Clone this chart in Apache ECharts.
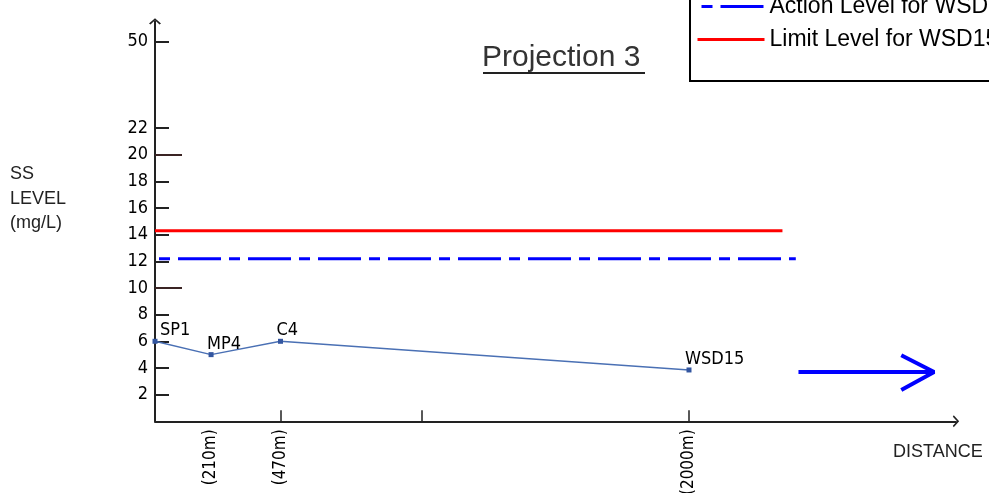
<!DOCTYPE html>
<html>
<head>
<meta charset="utf-8">
<script src="https://cdn.jsdelivr.net/npm/echarts@6/dist/echarts.min.js"></script>
<style>
  html, body { margin: 0; padding: 0; background: #fff; }
  #chart { width: 989px; height: 493px; }
</style>
</head>
<body>
<div id="chart"></div>
<script>
// monitoring stations along the distance axis
const stations = ['SP1', 'MP4', 'C4', 'WSD15']
const distances = [0, 210, 470, 2000]
const ssLevels = [6.0, 5.0, 6.0, 3.85]

// criteria lines (value, and how far along distance they run)
const limitLevel = 14.3
const limitEnd = 2350
const actionLevel = 12.2
const actionEnd = 2400

// axis ticks
const yTickValues = [2, 4, 6, 8, 10, 12, 14, 16, 18, 20, 22]
const yLongTicks = [10, 20]
const yTopLabel = '50'
const yTopPos = 28.5 // where the broken axis puts "50"
const xTickValues = [470, 1000, 2000]
const xLabelValues = [210, 470, 2000]

// direction arrow (data coords)
const arrowShaft = [[2410, 3.7], [2915, 3.7]]
const arrowHead = [[2795, 4.95], [2918, 3.7], [2795, 2.35]]

const narrow = "'Liberation Sans Narrow', 'DejaVu Sans Condensed', sans-serif"
const plain = "'Liberation Sans', Arial, sans-serif"
const chevron = 'path://M0,9 L10,0 L20,9 L17.5,10.5 L10,3.5 L2.5,10.5 Z'

const chart = echarts.init(document.getElementById('chart'))

const option = {
  animation: false,
  backgroundColor: '#fff',
  title: {
    text: 'Projection 3',
    left: 482,
    top: 43,
    padding: 0,
    textStyle: { fontFamily: plain, fontSize: 30, fontWeight: 'normal', color: '#333' }
  },
  legend: {
    orient: 'vertical',
    left: 690,
    top: -25,
    padding: [20, 12, 30, 6],
    itemGap: 10,
    itemWidth: 67,
    itemHeight: 14,
    borderColor: '#000',
    borderWidth: 2,
    backgroundColor: '#fff',
    itemStyle: { opacity: 0 },
    lineStyle: { width: 3 },
    textStyle: { fontFamily: plain, fontSize: 23, color: '#000' },
    data: ['Action Level for WSD15', 'Limit Level for WSD15']
  },
  grid: {
    left: 155,
    right: 33,
    top: 21.3,
    bottom: 71.7,
    outerBoundsMode: 'none'
  },
  xAxis: {
    type: 'value',
    min: 0,
    max: 3000,
    splitLine: { show: false },
    axisLine: {
      symbol: ['none', chevron],
      symbolSize: [12, 8],
      lineStyle: { color: '#222', width: 2 }
    },
    axisTick: {
      inside: true,
      length: 11,
      customValues: xTickValues,
      lineStyle: { color: '#222', width: 1.5 }
    },
    axisLabel: {
      customValues: xLabelValues,
      rotate: 90,
      margin: 8,
      fontFamily: narrow,
      fontSize: 17,
      color: '#000',
      formatter: v => '(' + v + 'm)'
    }
  },
  yAxis: [
    {
      type: 'value',
      min: 0,
      max: 30,
      splitLine: { show: false },
      axisLine: {
        symbol: ['none', chevron],
        symbolSize: [12, 8],
        lineStyle: { color: '#222', width: 2 }
      },
      axisTick: {
        inside: true,
        length: 14,
        customValues: yTickValues.concat([yTopPos]),
        lineStyle: { color: '#222', width: 2 }
      },
      axisLabel: {
        customValues: yTickValues.concat([yTopPos]),
        margin: 7,
        fontFamily: narrow,
        fontSize: 18,
        color: '#000',
        formatter: v => (v === yTopPos ? yTopLabel : String(v))
      }
    },
    {
      type: 'value',
      min: 0,
      max: 30,
      position: 'left',
      splitLine: { show: false },
      axisLine: { show: false },
      axisLabel: { show: false },
      axisTick: {
        inside: true,
        length: 27,
        customValues: yLongTicks,
        lineStyle: { color: '#3a2424', width: 2 }
      }
    }
  ],
  graphic: [
    {
      type: 'text', left: 10, top: 162,
      style: { text: 'SS\nLEVEL\n(mg/L)', fontFamily: plain, fontSize: 18, lineHeight: 24.5, fill: '#222' }
    },
    {
      type: 'text', left: 893, top: 443,
      style: { text: 'DISTANCE', fontFamily: plain, fontSize: 18, fill: '#222' }
    },
    {
      type: 'line',
      shape: { x1: 483, y1: 73, x2: 645, y2: 73 },
      style: { stroke: '#222', lineWidth: 2 }
    }
  ],
  series: [
    {
      name: 'Limit Level for WSD15',
      type: 'line',
      symbol: 'none',
      data: [[0, limitLevel], [limitEnd, limitLevel]],
      lineStyle: { color: '#ff0000', width: 3 },
      itemStyle: { color: '#ff0000' },
      z: 3
    },
    {
      name: 'Action Level for WSD15',
      type: 'line',
      symbol: 'none',
      data: [[0, actionLevel], [actionEnd, actionLevel]],
      lineStyle: { color: '#0000ff', width: 3, type: [43, 8, 11, 8], dashOffset: 47 },
      itemStyle: { color: '#0000ff' },
      z: 3
    },
    {
      name: 'SS',
      type: 'line',
      symbol: 'rect',
      symbolSize: 5,
      data: distances.map((d, i) => ({ value: [d, ssLevels[i]], name: stations[i] })),
      lineStyle: { color: '#4a70b4', width: 1.5 },
      itemStyle: { color: '#3356a0' },
      label: {
        show: true,
        position: 'top',
        align: 'left',
        distance: 5,
        offset: [-4, 6],
        formatter: '{b}',
        fontFamily: narrow,
        fontSize: 18,
        color: '#000'
      },
      z: 4
    },
    {
      name: 'arrow-shaft',
      type: 'line',
      symbol: 'none',
      data: arrowShaft,
      lineStyle: { color: '#0000ff', width: 4 },
      silent: true
    },
    {
      name: 'arrow-head',
      type: 'line',
      symbol: 'none',
      data: arrowHead,
      lineStyle: { color: '#0000ff', width: 4 },
      silent: true
    }
  ]
}

// SP1 label sits a little right of its point
option.series[2].data[0].label = { offset: [5, 6] }

chart.setOption(option)
window.addEventListener('resize', () => chart.resize())
</script>
</body>
</html>
